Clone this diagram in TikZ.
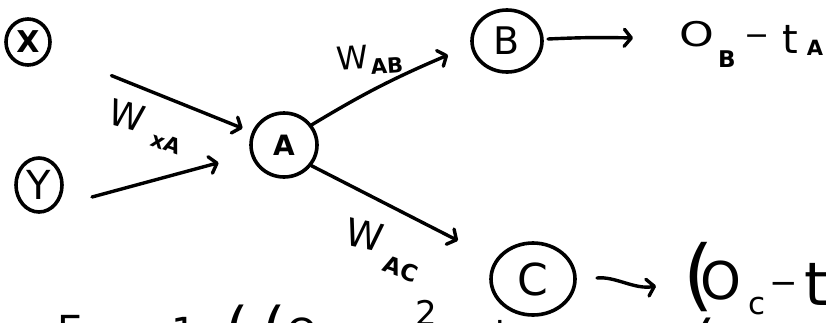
\documentclass[tikz,border=0pt]{standalone}
\usepackage{fontspec}
\setmainfont{DejaVu Sans}
\usetikzlibrary{arrows.meta,shapes.geometric}
\newcommand\hsz[1]{\fontsize{#1}{#1}\selectfont}
\begin{document}
\begin{tikzpicture}[x=1pt,y=-1pt,
  ring/.style={draw,line width=3.6pt,ellipse,inner sep=0pt},
  arr/.style={line width=3.4pt,line cap=round,-{Straight Barb[length=7pt,width=17pt,round]}},
  hw/.style={inner sep=0pt},
  hwb/.style={inner sep=0pt,font=\bfseries}]
\useasboundingbox (0,0) rectangle (826,322);
\clip (0,0) rectangle (826,322);
\fill[white] (0,0) rectangle (826,322);
% nodes
\node[ring,minimum width=44pt,minimum height=46pt] (X) at (28,42) {\hsz{30}\bfseries X};
\node[ring,minimum width=46pt,minimum height=54pt] (Y) at (39,185) {\hsz{40}Y};
\node[ring,minimum width=66pt,minimum height=64pt] (A) at (284,145) {\hsz{28}\bfseries A};
\node[ring,minimum width=70pt,minimum height=62pt] (B) at (507,41) {\hsz{38}B};
\node[ring,minimum width=84pt,minimum height=72pt] (C) at (533,279) {\hsz{44}C};
% free ends
\coordinate (ys) at (92,197);
\coordinate (bin) at (448,55);
\coordinate (bs) at (548,39);
\coordinate (bo) at (633,38);
\coordinate (cs) at (597,278);
\coordinate (co) at (656,286);
% connectors
\draw[arr,shorten <=66pt,shorten >=10pt] (X) -- (A);
\draw[arr,shorten >=33pt] (ys) -- (A);
\draw[arr] (A.36) to[bend left=4] (bin);
\draw[arr,shorten >=42pt] (A.-37) -- (C);
\draw[arr] (bs) to[bend left=2] (bo);
\draw[arr] (cs) .. controls (615,276) and (635,290) .. (co);
% weight labels
\node[hw,rotate=-15] (wxa) at (127,115) {\hsz{36}W};
\node[hwb,rotate=-20] (wxas) at (166,143) {\hsz{21}xA};
\node[hw,rotate=4] (wab) at (352,58) {\hsz{32}W};
\node[hwb,rotate=4] (wabs) at (387,66) {\hsz{21}AB};
\node[hw,rotate=-12] (wac) at (365,235) {\hsz{38}W};
\node[hwb,rotate=-20] (wacs) at (401,269) {\hsz{23}AC};
% output B
\node[hw] (ob) at (697,34) {\hsz{34}\scalebox{1.3}[1]{O}};
\node[hwb] (obs) at (727,59) {\hsz{23}B};
\node[hw] (obm) at (757,40) {\hsz{30}−};
\node[hw] (obt) at (790,39) {\hsz{40}t};
\node[hwb] (obts) at (815,48) {\hsz{21}A};
% output C
\node[hw] (ocp) at (699,277) {\hsz{78}(};
\node[hw] (oc) at (721,281) {\hsz{52}O};
\node[hw] (ocs) at (757,306) {\hsz{31}c};
\node[hw] (ocm) at (784,288) {\hsz{34}−};
\node[hw,anchor=north] (oct) at (816,263) {\hsz{60}t};
% cut-off formula at the bottom
\node[hw,anchor=north west] (e1) at (57,315) {\hsz{40}E};
\node[hw,anchor=north] (e2) at (184,317) {\hsz{40}1};
\node[hw,anchor=north] (e3) at (237,305) {\hsz{60}(};
\node[hw,anchor=north] (e4) at (274,305) {\hsz{60}(};
\node[hw,anchor=north west] (e5) at (286,318) {\hsz{40}O};
\node[hw,anchor=north] (e6) at (426,300) {\hsz{34}2};
\node[hw,anchor=north] (e7) at (500,320) {\hsz{40}+};
\node[hw,anchor=north] (e8) at (704,318) {\hsz{60}(};
\end{tikzpicture}
\end{document}
